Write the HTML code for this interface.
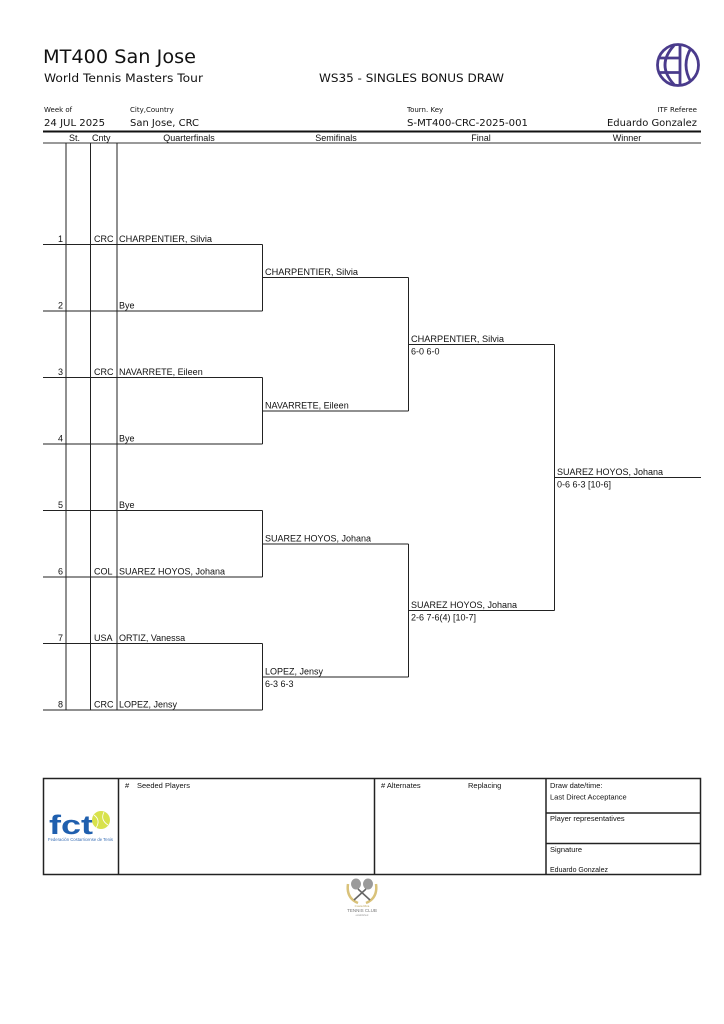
<!DOCTYPE html>
<html>
<head>
<meta charset="utf-8">
<style>
html,body{margin:0;padding:0;background:#fff;}
svg{display:block;}
text{font-family:"Liberation Sans","DejaVu Sans",sans-serif;fill:#111;}
.dv{font-family:"DejaVu Sans","Liberation Sans",sans-serif;}
</style>
</head>
<body>
<svg width="724" height="1024" viewBox="0 0 724 1024" xmlns="http://www.w3.org/2000/svg">
<rect width="724" height="1024" fill="#fff"/>

<!-- Title -->
<text x="43" y="63" font-size="19" class="dv" textLength="153" lengthAdjust="spacingAndGlyphs">MT400 San Jose</text>
<text x="44" y="82" font-size="11.5" class="dv" textLength="159" lengthAdjust="spacingAndGlyphs">World Tennis Masters Tour</text>
<text x="319" y="82" font-size="11.5" class="dv" textLength="185" lengthAdjust="spacingAndGlyphs">WS35 - SINGLES BONUS DRAW</text>

<!-- Logo -->
<g fill="none" stroke="#4a3b8c" stroke-width="2.8">
  <circle cx="678" cy="65" r="20.5"/>
  <line x1="680" y1="45" x2="680" y2="85.5"/>
  <path d="M674,45.5 Q656,65 674,84.5"/>
  <line x1="660" y1="58" x2="680" y2="58"/>
  <line x1="660" y1="72.5" x2="680" y2="72.5"/>
  <path d="M691,48 Q681,65 691,82"/>
</g>

<!-- Info row -->
<text x="44" y="112" font-size="7" class="dv">Week of</text>
<text x="44" y="126" font-size="9.5" class="dv" textLength="61" lengthAdjust="spacingAndGlyphs">24 JUL 2025</text>
<text x="130" y="112" font-size="7" class="dv">City,Country</text>
<text x="130" y="126" font-size="9.5" class="dv" textLength="69" lengthAdjust="spacingAndGlyphs">San Jose, CRC</text>
<text x="407" y="112" font-size="7" class="dv">Tourn. Key</text>
<text x="407" y="126" font-size="9.5" class="dv" textLength="121" lengthAdjust="spacingAndGlyphs">S-MT400-CRC-2025-001</text>
<text x="697" y="112" font-size="7" class="dv" text-anchor="end">ITF Referee</text>
<text x="697" y="126" font-size="9.5" class="dv" text-anchor="end" textLength="90" lengthAdjust="spacingAndGlyphs">Eduardo Gonzalez</text>

<!-- Header lines -->
<line x1="43" y1="131.5" x2="701" y2="131.5" stroke="#111" stroke-width="2"/>
<line x1="43" y1="143" x2="701" y2="143" stroke="#333" stroke-width="1"/>

<text x="69" y="141" font-size="9">St.</text>
<text x="92" y="141" font-size="9">Cnty</text>
<text x="189" y="141" font-size="9" text-anchor="middle">Quarterfinals</text>
<text x="336" y="141" font-size="9" text-anchor="middle">Semifinals</text>
<text x="481" y="141" font-size="9" text-anchor="middle">Final</text>
<text x="627" y="141" font-size="9" text-anchor="middle">Winner</text>

<!-- Column verticals -->
<g stroke="#222" stroke-width="1">
  <line x1="66" y1="143" x2="66" y2="710.5"/>
  <line x1="90.5" y1="143" x2="90.5" y2="710.5"/>
  <line x1="117" y1="143" x2="117" y2="710.5"/>
</g>

<!-- Bracket lines -->
<g stroke="#222" stroke-width="1" fill="none">
  <!-- QF player lines -->
  <line x1="43" y1="244.5" x2="262.5" y2="244.5"/>
  <line x1="43" y1="311" x2="262.5" y2="311"/>
  <line x1="43" y1="377.5" x2="262.5" y2="377.5"/>
  <line x1="43" y1="444" x2="262.5" y2="444"/>
  <line x1="43" y1="510.5" x2="262.5" y2="510.5"/>
  <line x1="43" y1="577" x2="262.5" y2="577"/>
  <line x1="43" y1="643.5" x2="262.5" y2="643.5"/>
  <line x1="43" y1="710" x2="262.5" y2="710"/>
  <!-- QF verticals -->
  <line x1="262.5" y1="244.5" x2="262.5" y2="311"/>
  <line x1="262.5" y1="377.5" x2="262.5" y2="444"/>
  <line x1="262.5" y1="510.5" x2="262.5" y2="577"/>
  <line x1="262.5" y1="643.5" x2="262.5" y2="710"/>
  <!-- SF lines -->
  <line x1="262.5" y1="277.5" x2="408.5" y2="277.5"/>
  <line x1="262.5" y1="411" x2="408.5" y2="411"/>
  <line x1="262.5" y1="544" x2="408.5" y2="544"/>
  <line x1="262.5" y1="677" x2="408.5" y2="677"/>
  <line x1="408.5" y1="277.5" x2="408.5" y2="411"/>
  <line x1="408.5" y1="544" x2="408.5" y2="677"/>
  <!-- Final lines -->
  <line x1="408.5" y1="344.5" x2="554.5" y2="344.5"/>
  <line x1="408.5" y1="610.5" x2="554.5" y2="610.5"/>
  <line x1="554.5" y1="344.5" x2="554.5" y2="610.5"/>
  <!-- Winner -->
  <line x1="554.5" y1="477.5" x2="701" y2="477.5"/>
</g>

<!-- Row numbers / country / names -->
<g font-size="9">
  <text x="63" y="242" text-anchor="end">1</text>
  <text x="94" y="242">CRC</text>
  <text x="119" y="242" textLength="93" lengthAdjust="spacingAndGlyphs">CHARPENTIER, Silvia</text>

  <text x="63" y="308.5" text-anchor="end">2</text>
  <text x="119" y="308.5">Bye</text>

  <text x="63" y="375" text-anchor="end">3</text>
  <text x="94" y="375">CRC</text>
  <text x="119" y="375">NAVARRETE, Eileen</text>

  <text x="63" y="441.5" text-anchor="end">4</text>
  <text x="119" y="441.5">Bye</text>

  <text x="63" y="508" text-anchor="end">5</text>
  <text x="119" y="508">Bye</text>

  <text x="63" y="574.5" text-anchor="end">6</text>
  <text x="94" y="574.5">COL</text>
  <text x="119" y="574.5">SUAREZ HOYOS, Johana</text>

  <text x="63" y="641" text-anchor="end">7</text>
  <text x="94" y="641">USA</text>
  <text x="119" y="641">ORTIZ, Vanessa</text>

  <text x="63" y="707.5" text-anchor="end">8</text>
  <text x="94" y="707.5">CRC</text>
  <text x="119" y="707.5">LOPEZ, Jensy</text>

  <!-- SF -->
  <text x="265" y="275" textLength="93" lengthAdjust="spacingAndGlyphs">CHARPENTIER, Silvia</text>
  <text x="265" y="408.5">NAVARRETE, Eileen</text>
  <text x="265" y="541.5">SUAREZ HOYOS, Johana</text>
  <text x="265" y="674.5">LOPEZ, Jensy</text>
  <text x="265" y="687">6-3 6-3</text>

  <!-- Final -->
  <text x="411" y="342" textLength="93" lengthAdjust="spacingAndGlyphs">CHARPENTIER, Silvia</text>
  <text x="411" y="354.5">6-0 6-0</text>
  <text x="411" y="608">SUAREZ HOYOS, Johana</text>
  <text x="411" y="620.5">2-6 7-6(4) [10-7]</text>

  <!-- Winner -->
  <text x="557" y="475">SUAREZ HOYOS, Johana</text>
  <text x="557" y="487.5">0-6 6-3 [10-6]</text>
</g>

<!-- Footer box -->
<g stroke="#222" stroke-width="1.5" fill="none">
  <rect x="43.5" y="778.5" width="657" height="96"/>
  <line x1="118.5" y1="778.5" x2="118.5" y2="874.5"/>
  <line x1="374.5" y1="778.5" x2="374.5" y2="874.5"/>
  <line x1="546" y1="778.5" x2="546" y2="874.5"/>
  <line x1="546" y1="813" x2="700.5" y2="813"/>
  <line x1="546" y1="843.5" x2="700.5" y2="843.5"/>
</g>
<g font-size="7.5" class="dv">
  <text x="125" y="788">#</text>
  <text x="137" y="788">Seeded Players</text>
  <text x="381" y="788"># Alternates</text>
  <text x="468" y="788">Replacing</text>
  <text x="550" y="788">Draw date/time:</text>
  <text x="550" y="799.5">Last Direct Acceptance</text>
  <text x="550" y="821">Player representatives</text>
  <text x="550" y="852">Signature</text>
</g>
<text x="550" y="872" font-size="7" textLength="58" lengthAdjust="spacingAndGlyphs">Eduardo Gonzalez</text>

<!-- FCT logo -->
<g>
  <text x="49" y="834" font-size="27" font-weight="bold" fill="#1f5fae" style="fill:#1f5fae" textLength="44" lengthAdjust="spacingAndGlyphs">fct</text>
  <circle cx="101" cy="820" r="9" fill="#d8e24c"/>
  <path d="M94,815 Q101,820 96,828" stroke="#fff" stroke-width="0.8" fill="none"/>
  <path d="M104,812 Q100,820 108,825" stroke="#fff" stroke-width="0.8" fill="none"/>
  <text x="48" y="841" font-size="4.6" style="fill:#3a6fb5" textLength="65" lengthAdjust="spacingAndGlyphs">Federación Costarricense de Tenis</text>
</g>

<!-- Tennis club logo -->
<g>
  <path d="M348,884 Q346,898 358,903" stroke="#d9c27a" stroke-width="2.5" fill="none"/>
  <path d="M376,884 Q378,898 366,903" stroke="#d9c27a" stroke-width="2.5" fill="none"/>
  <ellipse cx="356" cy="884" rx="5" ry="5.5" fill="#9a9a9a"/>
  <ellipse cx="368" cy="884" rx="5" ry="5.5" fill="#9a9a9a"/>
  <line x1="358" y1="889" x2="370" y2="900" stroke="#666" stroke-width="1.6"/>
  <line x1="366" y1="889" x2="354" y2="900" stroke="#666" stroke-width="1.6"/>
  <text x="362" y="907" font-size="3" text-anchor="middle" style="fill:#b9a35c">Costa Rica</text>
  <text x="362" y="912" font-size="4.5" text-anchor="middle" font-family="Liberation Serif, serif" style="fill:#777">TENNIS CLUB</text>
  <text x="362" y="916" font-size="2.5" text-anchor="middle" style="fill:#999">established</text>
</g>
</svg>
</body>
</html>
